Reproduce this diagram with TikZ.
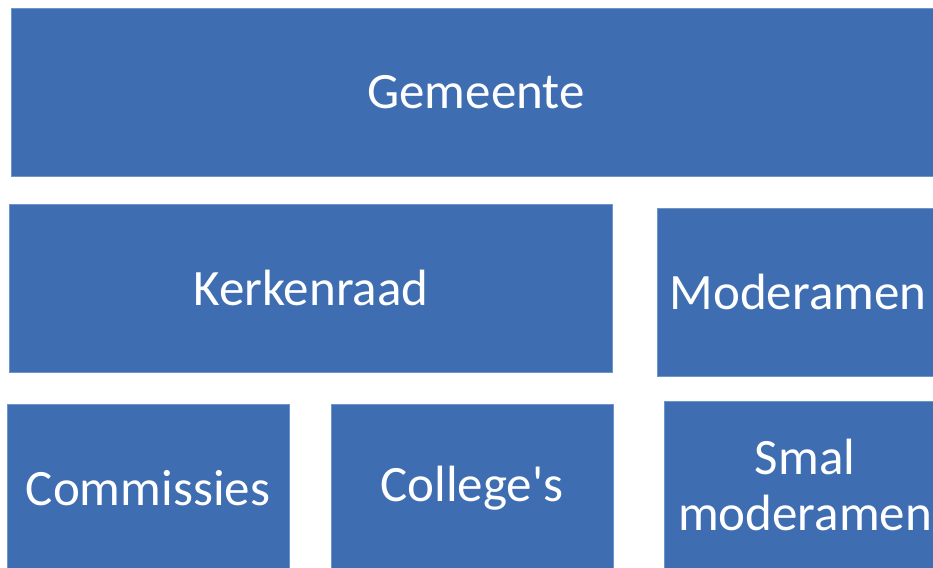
\documentclass[tikz,border=0pt]{standalone}
\usepackage{fontspec}
\setmainfont{Carlito}
\definecolor{blokblauw}{RGB}{62,110,177}
\definecolor{randblauw}{RGB}{110,148,204}

\begin{document}
\begin{tikzpicture}[x=1pt,y=-1pt,
  blok/.style={fill=blokblauw, draw=randblauw, line width=0.6pt, text=white,
    align=center, inner sep=0pt, minimum height=168pt,
    font=\fontsize{51}{56}\selectfont}]

\useasboundingbox (0,0) rectangle (933,567);
\clip (0,0) rectangle (933,567);

\node[blok, minimum width=929pt] (gemeente) at (476,92) {Gemeente};

\node[blok, minimum width=603pt] (kerkenraad) at (311,288) {Kerkenraad};
\node[blok, minimum width=282pt] (moderamen) at (798,292) {Moderamen};

\node[blok, minimum width=282pt] (commissies) at (148,488) {Commissies};
\node[blok, minimum width=282pt] (colleges) at (472,488) {College\textquotesingle s};
\node[blok, minimum width=282pt] (smal) at (805,485) {Smal\\moderamen};

\end{tikzpicture}
\end{document}
